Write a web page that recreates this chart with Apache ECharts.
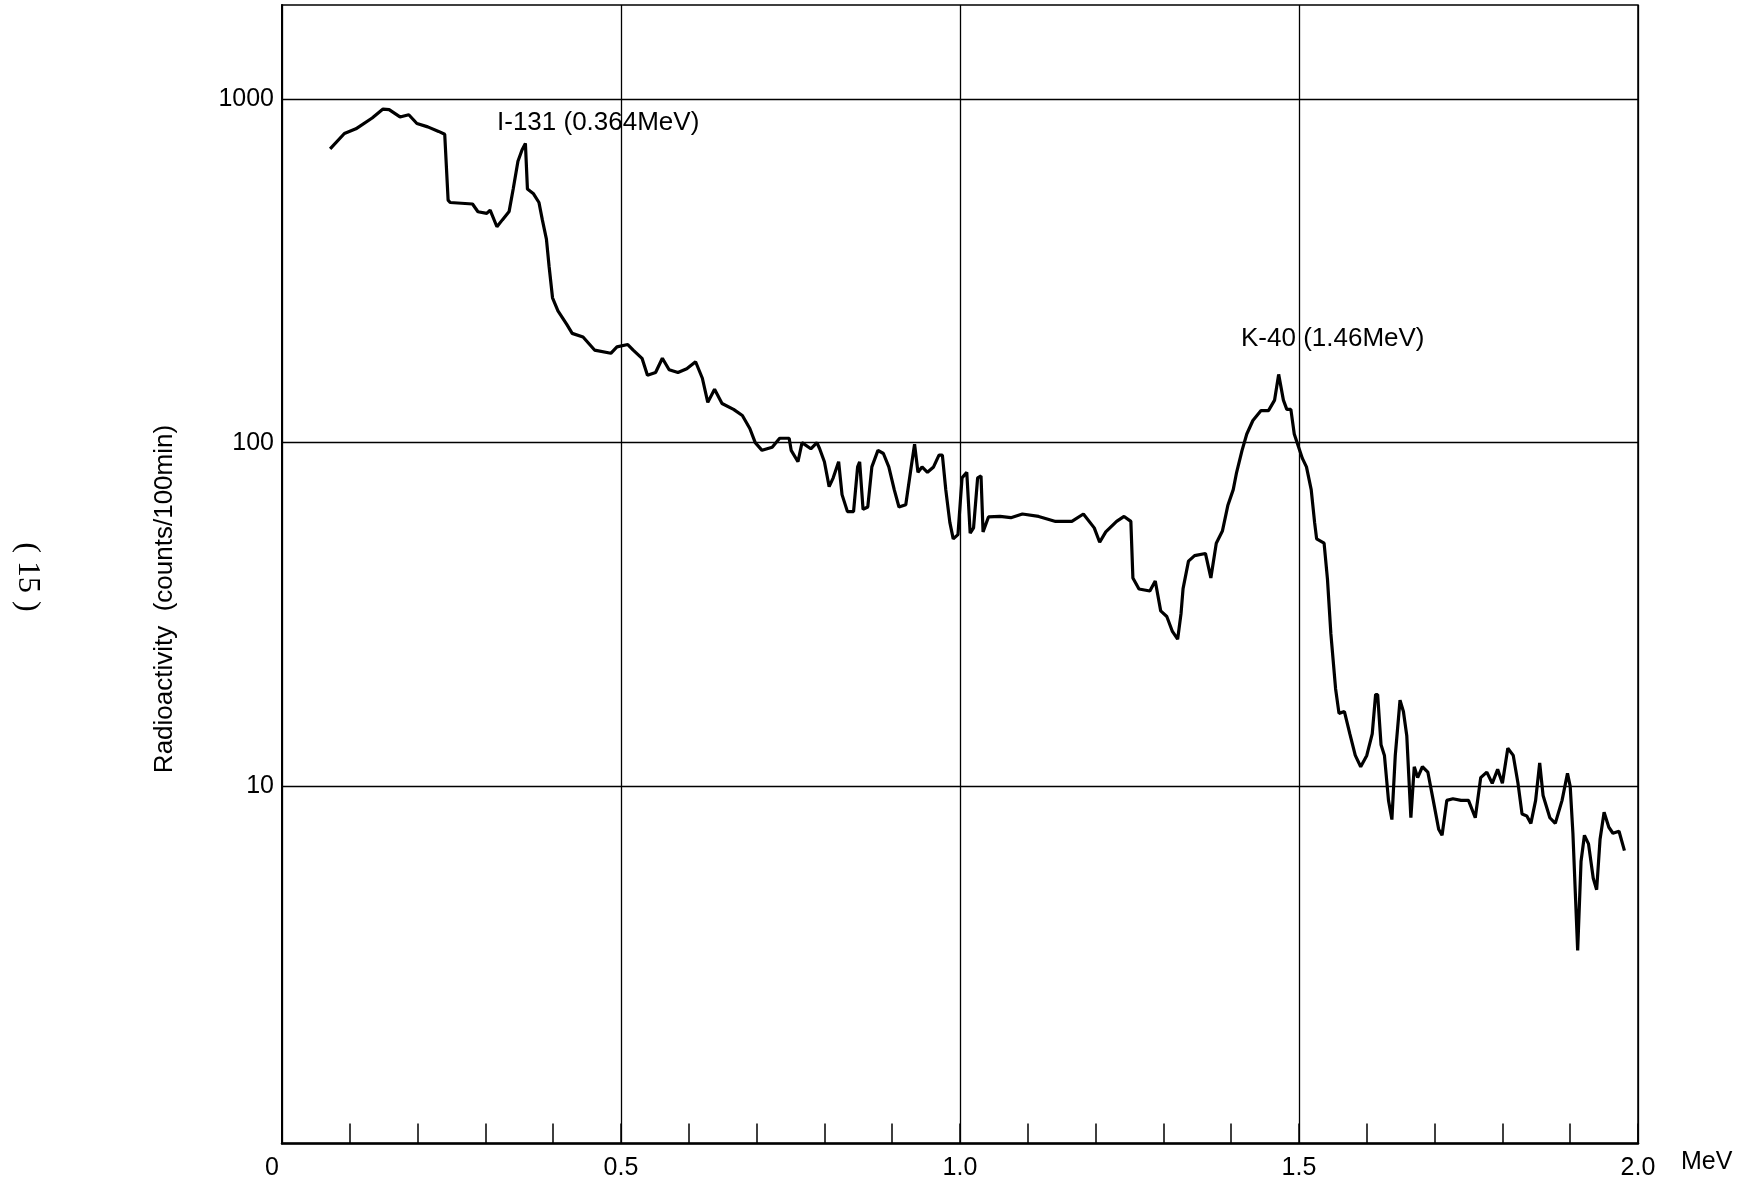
<!DOCTYPE html>
<html>
<head>
<meta charset="utf-8">
<script src="https://cdn.jsdelivr.net/npm/echarts@6/dist/echarts.min.js"></script>
<style>
html,body{margin:0;padding:0;background:#fff;}
#chart{width:1742px;height:1183px;}
</style>
</head>
<body>
<div id="chart"></div>
<script>
// Energy (MeV)
var energy = [
0.071,0.092,0.109,0.133,0.149,0.158,0.174,0.187,0.199,0.215,0.231,0.240,0.245,0.248,0.281,0.289,0.302,0.307,0.317,0.325,
0.335,0.341,0.348,0.354,0.359,0.362,0.371,0.379,0.384,0.390,0.394,0.399,0.407,0.420,0.428,0.444,0.461,0.485,0.494,0.510,
0.518,0.531,0.539,0.551,0.561,0.571,0.584,0.597,0.610,0.620,0.628,0.638,0.649,0.666,0.679,0.690,0.698,0.708,0.723,0.734,
0.748,0.751,0.761,0.767,0.780,0.789,0.793,0.800,0.807,0.813,0.821,0.826,0.834,0.843,0.849,0.852,0.857,0.864,0.870,0.879,
0.887,0.895,0.903,0.910,0.920,0.928,0.933,0.938,0.944,0.952,0.961,0.969,0.974,0.979,0.985,0.990,0.997,1.003,1.010,1.015,
1.020,1.026,1.031,1.034,1.042,1.059,1.075,1.092,1.116,1.141,1.165,1.182,1.198,1.206,1.215,1.231,1.242,1.252,1.255,1.264,
1.280,1.288,1.296,1.305,1.313,1.321,1.326,1.329,1.337,1.346,1.362,1.370,1.378,1.387,1.395,1.403,1.408,1.416,1.423,1.432,
1.444,1.455,1.464,1.470,1.477,1.482,1.488,1.493,1.498,1.505,1.511,1.518,1.523,1.526,1.537,1.542,1.547,1.554,1.559,1.567,
1.575,1.583,1.591,1.600,1.608,1.613,1.616,1.621,1.626,1.632,1.637,1.642,1.649,1.654,1.659,1.665,1.670,1.675,1.682,1.690,
1.698,1.706,1.711,1.718,1.727,1.739,1.750,1.760,1.768,1.777,1.785,1.793,1.800,1.808,1.816,1.823,1.829,1.836,1.842,1.849,
1.855,1.860,1.870,1.878,1.888,1.896,1.900,1.904,1.908,1.911,1.916,1.921,1.927,1.934,1.939,1.944,1.950,1.957,1.963,1.972,
1.980
];
// Radioactivity (counts/100min)
var counts = [
716,794,819,881,935,932,887,900,849,830,805,790,508,500,495,470,465,475,425,445,
471,547,659,711,743,547,530,500,445,391,325,264,242,221,208,203,186,182,190,193,
186,176,157,160,176,163,160,164,172,154,131,143,130,125,120,110,100,95,97,103,
103,95,88,100,96,100,96,88,74.5,79,88,70.6,63,63,85,88,64,65,85,95,
93,85,73,65,66,85,99,82,85,82,85,92,92,73,58.6,52.5,54,79,82,54.5,
56.5,79,80,55,60.8,61,60.5,62,61,59,59,62,56.5,51.3,55,59,61,59,40.4,37.5,
37,39.6,32.4,31.2,28.3,26.8,31.8,37.6,45.2,46.9,47.6,40.4,51,55.3,65.6,73,82,95,106,116,
124,124,133,158,133,125,125,106,99,90,85,73,58.6,52.5,51,40,27.8,19.2,16.3,16.5,
14.2,12.3,11.4,12.3,14.2,18.5,18.5,13.2,12.3,9.1,8.0,12.3,17.8,16.5,14,8.1,11.4,10.6,11.4,11,
9.1,7.5,7.2,9.1,9.2,9.1,9.1,8.1,10.6,11,10.2,11.2,10.2,12.9,12.3,10.2,8.3,8.2,7.8,9.1,
11.7,9.4,8.1,7.8,9.1,10.9,10,7.3,4.66,3.33,6.05,7.2,6.8,5.4,5.0,7,8.4,7.6,7.3,7.4,
6.5
];
var yGridValues = [10, 100, 1000];
var xMajorLabels = ['0', '0.5', '1.0', '1.5', '2.0'];
var annotations = [
  {text: 'I-131 (0.364MeV)'},
  {text: 'K-40 (1.46MeV)'}
];
var yTitle = 'Radioactivity  (counts/100min)';
var pageMark = '( 15 )';
var xUnit = 'MeV';

var pairs = energy.map(function (e, i) { return [e, counts[i]]; });
var FONT = '"Liberation Sans", Arial, Helvetica, sans-serif';

var chart = echarts.init(document.getElementById('chart'), null, {renderer: 'canvas'});
chart.setOption({
  animation: false,
  backgroundColor: '#fff',
  grid: {left: 282, right: 104, top: 5, bottom: 39.5, show: true, borderColor: '#000', borderWidth: 1.5, backgroundColor: '#fff'},
  xAxis: [{
    type: 'value', min: 0, max: 2, interval: 0.5, position: 'bottom',
    axisLine: {show: true, lineStyle: {color: '#000', width: 2.5}},
    axisTick: {show: false},
    splitLine: {show: true, lineStyle: {color: '#000', width: 1.3}},
    axisLabel: {
      color: '#000', fontSize: 25, fontFamily: FONT, margin: 12,
      formatter: function (v) {
        var idx = Math.round(v / 0.5);
        var s = xMajorLabels[idx] || '';
        if (idx === 0) return '{z|' + s + '}';
        return s;
      },
      rich: {z: {fontSize: 25, fontFamily: FONT, color: '#000', padding: [0, 20, 0, 0]}}
    }
  }, {
    type: 'value', min: 0, max: 2, interval: 0.1, position: 'bottom',
    axisLine: {show: false},
    axisTick: {show: true, inside: true, length: 20, lineStyle: {color: '#000', width: 1.5}},
    splitLine: {show: false},
    axisLabel: {show: false}
  }],
  yAxis: {
    type: 'log', logBase: 10, min: 0.913, max: 1878,
    axisLine: {show: true, lineStyle: {color: '#000', width: 2}},
    axisTick: {show: false},
    splitLine: {show: false},
    axisLabel: {
      color: '#000', fontSize: 25, fontFamily: FONT, margin: 8,
      showMinLabel: false, showMaxLabel: false,
      formatter: function (v) {
        for (var i = 0; i < yGridValues.length; i++) {
          if (Math.abs(Math.log10(v) - Math.log10(yGridValues[i])) < 1e-6) return String(yGridValues[i]);
        }
        return '';
      }
    }
  },
  series: [{
    type: 'line',
    data: pairs,
    xAxisIndex: 0,
    showSymbol: false,
    symbol: 'none',
    lineStyle: {color: '#000', width: 3.2},
    markLine: {
      silent: true,
      symbol: ['none', 'none'],
      label: {show: false},
      lineStyle: {color: '#000', width: 1.3, type: 'solid'},
      data: yGridValues.map(function (v) { return {yAxis: v}; })
    },
    z: 5
  }],
  graphic: [
    {type: 'text', left: 497, top: 110, style: {text: annotations[0].text, font: '26px ' + FONT, fill: '#000'}},
    {type: 'text', left: 1241, top: 326, style: {text: annotations[1].text, font: '26px ' + FONT, fill: '#000'}},
    {type: 'text', x: 165, y: 599, rotation: Math.PI / 2,
      style: {text: yTitle, font: '26px ' + FONT, fill: '#000', align: 'center', verticalAlign: 'middle'}},
    {type: 'text', x: 27, y: 577, rotation: -Math.PI / 2,
      style: {text: pageMark, font: '32px "Liberation Serif", "DejaVu Serif", serif', fill: '#000', align: 'center', verticalAlign: 'middle'}},
    {type: 'text', x: 1681, y: 1162, style: {text: xUnit, font: '25px ' + FONT, fill: '#000', align: 'left', verticalAlign: 'middle'}}
  ]
});
</script>
</body>
</html>
